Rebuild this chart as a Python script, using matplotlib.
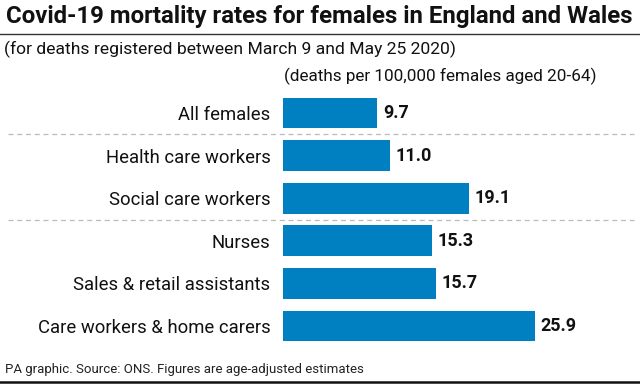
import matplotlib
matplotlib.use("Agg")
import matplotlib.pyplot as plt
from matplotlib.lines import Line2D

# data
groups = [
    "All females",
    "Health care workers",
    "Social care workers",
    "Nurses",
    "Sales & retail assistants",
    "Care workers & home carers",
]
rates = [9.7, 11.0, 19.1, 15.3, 15.7, 25.9]
separators_after = [0, 2]

title = "Covid-19 mortality rates for females in England and Wales"
subtitle = "(for deaths registered between March 9 and May 25 2020)"
units = "(deaths per 100,000 females aged 20-64)"
footer = "PA graphic. Source: ONS. Figures are age-adjusted estimates"

BLUE = "#0080c0"
W, H = 640, 388


def main():
    plt.rcParams["font.family"] = ["Roboto", "DejaVu Sans"]
    fig = plt.figure(figsize=(W / 100, H / 100), dpi=100)

    # axes placed so x=0 sits at the bar start and each row is ~42.6px tall
    left = 283 / W
    width = (630 - 283) / W
    top_px, bot_px = 91.7, 347.3
    ax = fig.add_axes([left, 1 - bot_px / H, width, (bot_px - top_px) / H])
    ax.set_xlim(0, (630 - 283) / 9.72)
    ax.set_ylim(len(groups) - 0.5, -0.5)

    ypos = list(range(len(groups)))
    ax.barh(ypos, rates, height=0.72, color=BLUE)

    for y, v in zip(ypos, rates):
        ax.annotate(f"{v:.1f}", (v, y), xytext=(4, 0), textcoords="offset points",
                    va="center", ha="left", fontsize=13, fontweight="bold",
                    color="#111111")

    ax.set_yticks(ypos)
    ax.set_yticklabels(groups, fontsize=13.3, color="#111111")
    ax.tick_params(axis="y", length=0, pad=9)
    ax.set_xticks([])
    for s in ax.spines.values():
        s.set_visible(False)

    # dashed separators spanning most of the figure
    x0 = (8 - 283) / (630 - 283)
    x1 = (634 - 283) / (630 - 283)
    for i in separators_after:
        ax.axhline(i + 0.5, xmin=x0, xmax=x1, color="#bbbbbb", lw=0.9,
                   ls=(0, (4, 3)), clip_on=False)

    fig.text(6 / W, 1 - 17 / H, title, fontsize=17.3, fontweight="bold",
             va="center", ha="left", color="#111111")
    fig.add_artist(Line2D([0, 1], [1 - 33.5 / H] * 2, color="#333333", lw=1))
    fig.text(4 / W, 1 - 49 / H, subtitle, fontsize=12.6, va="center",
             ha="left", color="#111111")
    fig.text(596 / W, 1 - 76 / H, units, fontsize=12.3, va="center",
             ha="right", color="#111111")
    fig.text(5 / W, 1 - 369 / H, footer, fontsize=9.5, va="center",
             ha="left", color="#222222")
    fig.add_artist(Line2D([0, 1], [1 - 382 / H] * 2, color="#111111", lw=1.8))

    fig.savefig("out.png", dpi=100)


if __name__ == "__main__":
    main()
